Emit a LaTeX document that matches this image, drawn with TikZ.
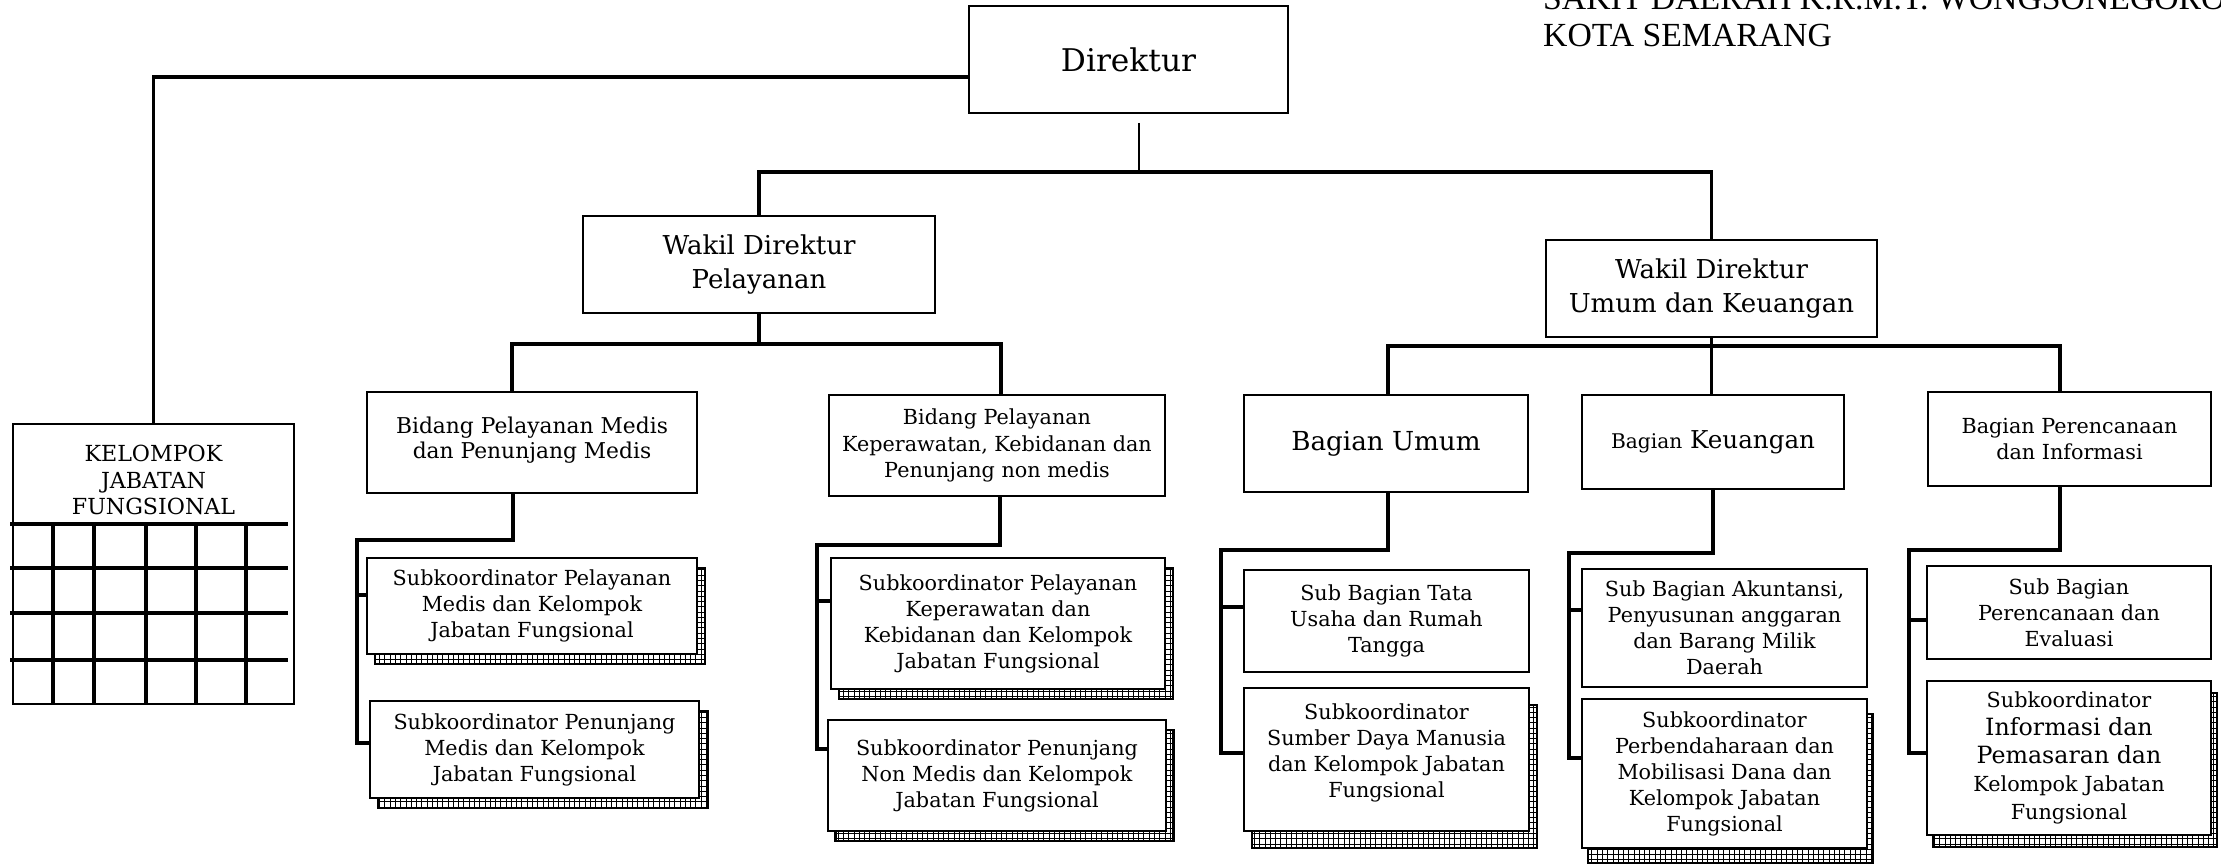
\documentclass[tikz,border=0pt]{standalone}
\usepackage{fontspec}
\setmainfont{DejaVu Serif}
\newfontfamily\ttlfont{Liberation Serif}
\usetikzlibrary{patterns,shadows}

\begin{document}
\begin{tikzpicture}[x=0.02cm,y=-0.02cm,
  box/.style={draw, line width=1.3pt, fill=white, align=center, inner sep=0pt},
  shd/.style 2 args={general shadow={shadow xshift=#1, shadow yshift=-#2, draw=black, line width=1.2pt, pattern=grid}},
  conn/.style={line width=2.1pt},
  grd/.style={line width=2pt},
  fdir/.style={font=\fontsize{17.8}{21}\selectfont},
  fwak/.style={font=\fontsize{14.8}{19.5}\selectfont},
  fbid/.style={font=\fontsize{12.4}{14.5}\selectfont},
  fsub/.style={font=\fontsize{11.8}{14.8}\selectfont},
  fttl/.style={font=\ttlfont\fontsize{19.2}{21}\selectfont}]
\clip (0,0) rectangle (2221,865);

% judul
\node[fttl, anchor=base west] (ttl1) at (1537,10) {SAKIT DAERAH K.R.M.T. WONGSONEGORO};
\node[fttl, anchor=base west] (ttl2) at (1537,47) {KOTA SEMARANG};

% pimpinan
\node[box, fdir, minimum width=6.38cm, minimum height=2.14cm] (dir) at (1128.5,59.5) {Direktur};
\node[box, fwak, minimum width=7.04cm, minimum height=1.94cm] (wdp) at (759,264.5) {Wakil Direktur\\Pelayanan};
\node[box, fwak, minimum width=6.62cm, minimum height=1.94cm] (wdu) at (1711.5,288.5) {Wakil Direktur\\Umum dan Keuangan};

% bidang dan bagian
\node[box, fbid, minimum width=6.6cm, minimum height=2.02cm] (bpm) at (532,442.5) {Bidang Pelayanan Medis\\dan Penunjang Medis\\[-9pt]};
\node[box, font=\fontsize{11.8}{15}\selectfont, minimum width=6.72cm, minimum height=2.02cm] (bpk) at (997,445.5) {Bidang Pelayanan\\Keperawatan, Kebidanan dan\\Penunjang non medis};
\node[box, font=\fontsize{14.9}{17}\selectfont, minimum width=5.68cm, minimum height=1.94cm] (bum) at (1386,443.5) {Bagian Umum};
\node[box, font=\fontsize{14}{17}\selectfont, minimum width=5.24cm, minimum height=1.88cm] (bke) at (1713,442) {{\fontsize{11.5}{15}\selectfont Bagian} Keuangan};
\node[box, font=\fontsize{11.8}{14.5}\selectfont, minimum width=5.66cm, minimum height=1.88cm] (bpi) at (2069.5,439) {Bagian Perencanaan\\dan Informasi};

% kelompok jabatan fungsional
\node[box, minimum width=5.62cm, minimum height=5.6cm] (kjf) at (153.5,564) {};
\draw[grd] (10,524) -- (288,524);
\draw[grd] (10,568) -- (288,568);
\draw[grd] (10,613) -- (288,613);
\draw[grd] (10,660) -- (288,660);
\draw[grd] (53,524) -- (53,704);
\draw[grd] (94,524) -- (94,704);
\draw[grd] (146,524) -- (146,704);
\draw[grd] (196,524) -- (196,704);
\draw[grd] (246,524) -- (246,704);
\node[font=\fontsize{12.6}{15.3}\selectfont, align=center] (kjft) at (153.5,480) {KELOMPOK\\JABATAN\\FUNGSIONAL};

% subkoordinator
\node[box, fsub, shd={0.16cm}{0.2cm}, minimum width=6.6cm, minimum height=1.92cm] (s1) at (532,606) {Subkoordinator Pelayanan\\Medis dan Kelompok\\Jabatan Fungsional};
\node[box, fsub, shd={0.17cm}{0.2cm}, minimum width=6.58cm, minimum height=1.94cm] (s2) at (534.5,749.5) {Subkoordinator Penunjang\\Medis dan Kelompok\\Jabatan Fungsional};
\node[box, fsub, shd={0.16cm}{0.2cm}, minimum width=6.68cm, minimum height=2.62cm] (s3) at (998,623.5) {Subkoordinator Pelayanan\\Keperawatan dan\\Kebidanan dan Kelompok\\Jabatan Fungsional};
\node[box, fsub, shd={0.15cm}{0.2cm}, minimum width=6.76cm, minimum height=2.22cm] (s4) at (997,775.5) {Subkoordinator Penunjang\\Non Medis dan Kelompok\\Jabatan Fungsional};
\node[box, fsub, minimum width=5.7cm, minimum height=2.04cm] (s5) at (1386.5,621) {Sub Bagian Tata\\Usaha dan Rumah\\Tangga};
\node[box, fsub, shd={0.16cm}{0.34cm}, minimum width=5.7cm, minimum height=2.86cm] (s6) at (1386.5,759.5) {Subkoordinator\\Sumber Daya Manusia\\dan Kelompok Jabatan\\Fungsional\\[-5pt]};
\node[box, fsub, minimum width=5.7cm, minimum height=2.36cm] (s7) at (1724.5,628) {Sub Bagian Akuntansi,\\Penyusunan anggaran\\dan Barang Milik\\Daerah};
\node[box, fsub, shd={0.12cm}{0.3cm}, minimum width=5.7cm, minimum height=2.98cm] (s8) at (1724.5,773.5) {Subkoordinator\\Perbendaharaan dan\\Mobilisasi Dana dan\\Kelompok Jabatan\\Fungsional};
\node[box, fsub, minimum width=5.68cm, minimum height=1.86cm] (s9) at (2069,612.5) {Sub Bagian\\Perencanaan dan\\Evaluasi};
\node[box, font=\fontsize{11.8}{16}\selectfont, shd={0.12cm}{0.24cm}, minimum width=5.68cm, minimum height=3.08cm] (s10) at (2069,758) {Subkoordinator\\{\fontsize{13.5}{17}\selectfont Informasi dan}\\{\fontsize{13.5}{17}\selectfont Pemasaran dan}\\Kelompok Jabatan\\Fungsional};

% garis direktur
\coordinate (dtop) at (1139,123);
\coordinate (dbus) at (1139,172);
\draw[conn] ([yshift=-0.35cm]dir.west) -| (kjf.north);
\draw[line width=1.5pt] (dtop) -- (dbus);
\draw[conn] (wdp.north) |- (dbus) -| (wdu.north);

% garis wakil direktur
\coordinate (pl) at (512,344);
\coordinate (pr) at (1001,344);
\draw[conn] (wdp.south) -- (wdp.south |- pl);
\draw[conn] (pl |- bpm.north) -- (pl) -- (pr) -- (pr |- bpk.north);
\coordinate (ul) at (1388,346);
\coordinate (ur) at (2060,346);
\draw[conn] (wdu.south) -- (wdu.south |- bke.north);
\draw[conn] (ul |- bum.north) -- (ul) -- (ur) -- (ur |- bpi.north);

% garis bidang medis
\coordinate (ma) at (513,540);
\coordinate (mb) at (357,743);
\coordinate (mc) at (357,595);
\draw[conn] (ma |- bpm.south) -- (ma) -| (mb) -- (mb -| s2.west);
\draw[conn] (mc) -- (mc -| s1.west);

% garis bidang keperawatan
\coordinate (ka) at (1000,545);
\coordinate (kb) at (817,749);
\coordinate (kc) at (817,601);
\draw[conn] (ka |- bpk.south) -- (ka) -| (kb) -- (kb -| s4.west);
\draw[conn] (kc) -- (kc -| s3.west);

% garis bagian umum
\coordinate (ua) at (1388,550);
\coordinate (ub) at (1221,753);
\coordinate (uc) at (1221,607);
\draw[conn] (ua |- bum.south) -- (ua) -| (ub) -- (ub -| s6.west);
\draw[conn] (uc) -- (uc -| s5.west);

% garis bagian keuangan
\coordinate (ea) at (1713,553);
\coordinate (eb) at (1569,758);
\coordinate (ec) at (1569,610);
\draw[conn] (ea |- bke.south) -- (ea) -| (eb) -- (eb -| s8.west);
\draw[conn] (ec) -- (ec -| s7.west);

% garis bagian perencanaan
\coordinate (ia) at (2060,550);
\coordinate (ib) at (1909,753);
\coordinate (ic) at (1909,620);
\draw[conn] (ia |- bpi.south) -- (ia) -| (ib) -- (ib -| s10.west);
\draw[conn] (ic) -- (ic -| s9.west);
\end{tikzpicture}
\end{document}
